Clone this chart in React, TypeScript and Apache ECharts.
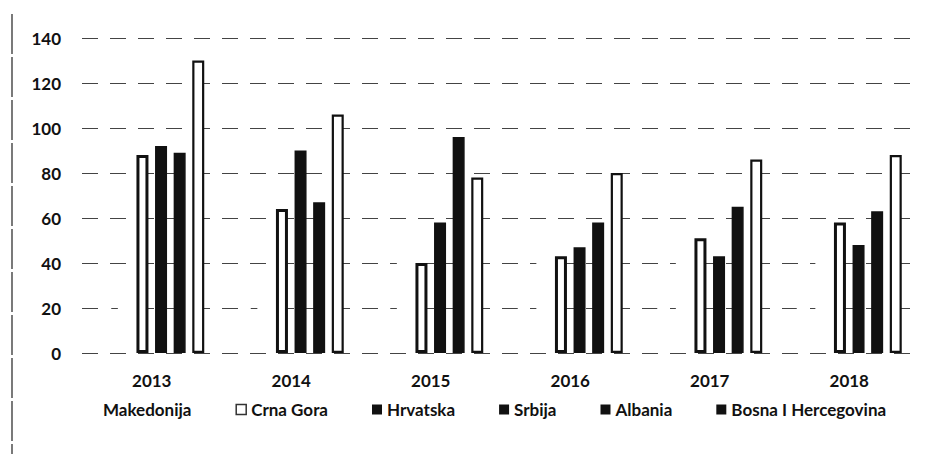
import React, { useEffect, useRef } from "react";
import * as echarts from "echarts";

const years = ["2013", "2014", "2015", "2016", "2017", "2018"];
const seriesNames = ["Makedonija", "Crna Gora", "Hrvatska", "Srbija", "Albania", "Bosna I Hercegovina"];
// First two series are faded out in the scanned reference; values estimated from traces.
const makedonija = [30, 28, 32, 33, 29, 31];
const crnaGora = [37, 35, 44, 49, 40, 48];
const hrvatska = [88, 64, 40, 43, 51, 58];
const srbija = [92, 90, 58, 47, 43, 48];
const albania = [89, 67, 96, 58, 65, 63];
const bosna = [130, 106, 78, 80, 86, 88];
const yTicks = [0, 20, 40, 60, 80, 100, 120, 140];

const FONT = "Lato, 'Open Sans', sans-serif";

export default function App() {
  const ref = useRef<HTMLDivElement>(null);
  useEffect(() => {
    if (!ref.current) return;
    const chart = echarts.init(ref.current, undefined, { renderer: "svg" });
    const white = { color: "#ffffff" };
    const outlined = (bw: number) => ({ color: "#ffffff", borderColor: "#111", borderWidth: bw });
    const black = { color: "#111", borderColor: "#111", borderWidth: 1.5 };
    const styles = [white, white, outlined(3), black, black, outlined(2.2)];
    const values = [makedonija, crnaGora, hrvatska, srbija, albania, bosna];
    chart.setOption({
      animation: false,
      backgroundColor: "#ffffff",
      textStyle: { fontFamily: FONT },
      grid: { left: 82, right: 14, top: 38, bottom: 101, containLabel: false },
      xAxis: {
        type: "category",
        data: years,
        axisLine: { show: false },
        axisTick: { show: false },
        axisLabel: { margin: 19, fontSize: 17, fontWeight: "bold", color: "#111", fontFamily: FONT },
      },
      yAxis: {
        type: "value",
        min: yTicks[0],
        max: yTicks[yTicks.length - 1],
        interval: 20,
        axisLine: { show: false },
        axisTick: { show: false },
        axisLabel: { margin: 21, fontSize: 17, fontWeight: "bold", color: "#111", fontFamily: FONT },
        splitLine: { lineStyle: { color: "#444", width: 1.2, type: [16, 12] } },
      },
      legend: {
        bottom: 31,
        left: 83,
        itemWidth: 10,
        itemHeight: 10,
        itemGap: 44,
        icon: "rect",
        textStyle: { fontSize: 17, fontWeight: "bold", color: "#111", fontFamily: FONT },
        data: [
          { name: seriesNames[0], itemStyle: { color: "#ffffff", borderWidth: 0 } },
          { name: seriesNames[1], itemStyle: { color: "#ffffff", borderColor: "#333", borderWidth: 1.5 } },
          { name: seriesNames[2], itemStyle: { color: "#111", borderWidth: 0 } },
          { name: seriesNames[3], itemStyle: { color: "#111", borderWidth: 0 } },
          { name: seriesNames[4], itemStyle: { color: "#111", borderWidth: 0 } },
          { name: seriesNames[5], itemStyle: { color: "#111", borderWidth: 0 } },
        ],
      },
      graphic: [
        { type: "line", shape: { x1: 12, y1: 14, x2: 12, y2: 454 }, style: { stroke: "#222", lineWidth: 1.2, lineDash: [40, 3] } },
      ],
      series: seriesNames.map((name, i) => ({
        name,
        type: "bar",
        data: values[i],
        barWidth: 12,
        barGap: "55%",
        itemStyle: styles[i],
      })),
    });
    return () => chart.dispose();
  }, []);
  return (
    <div
      ref={ref}
      style={{ position: "fixed", left: 0, top: 0, width: 933, height: 454, background: "#fff" }}
    />
  );
}
